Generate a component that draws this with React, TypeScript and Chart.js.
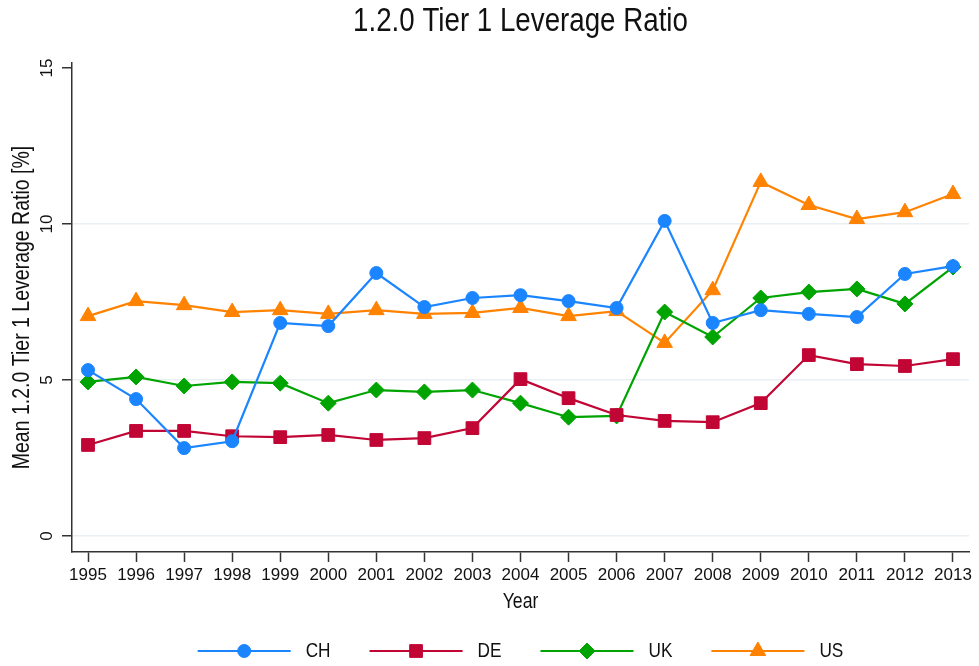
import React, { useEffect, useRef } from "react";
import { Chart, registerables } from "chart.js";

Chart.register(...registerables);

const years = [1995, 1996, 1997, 1998, 1999, 2000, 2001, 2002, 2003, 2004, 2005, 2006, 2007, 2008, 2009, 2010, 2011, 2012, 2013];

const chValues = [5.32, 4.39, 2.82, 3.04, 6.83, 6.73, 8.43, 7.34, 7.63, 7.72, 7.53, 7.31, 10.1, 6.83, 7.24, 7.12, 7.02, 8.4, 8.65];
const deValues = [2.92, 3.37, 3.37, 3.2, 3.17, 3.24, 3.08, 3.14, 3.46, 5.03, 4.42, 3.88, 3.69, 3.65, 4.26, 5.8, 5.51, 5.45, 5.67];
const ukValues = [4.94, 5.1, 4.81, 4.94, 4.9, 4.26, 4.68, 4.62, 4.68, 4.26, 3.81, 3.85, 7.18, 6.38, 7.63, 7.82, 7.92, 7.44, 8.62];
const usValues = [7.05, 7.53, 7.4, 7.18, 7.24, 7.12, 7.24, 7.12, 7.15, 7.31, 7.05, 7.21, 6.19, 7.88, 11.35, 10.61, 10.16, 10.38, 10.96];

const yTicks = [0, 5, 10, 15];

const titleText = "1.2.0 Tier 1 Leverage Ratio";
const yTitleText = "Mean 1.2.0 Tier 1 Leverage Ratio [%]";
const xTitleText = "Year";

const REG = "'Liberation Sans', Arial, sans-serif";
const AXIS_COLOR = "#333333";
const TEXT_COLOR = "#111111";
const CONDENSE = 0.82;

type SeriesDef = {
  label: string;
  values: number[];
  color: string;
  pointStyle: string;
  radius: number;
};

const series: SeriesDef[] = [
  { label: "CH", values: chValues, color: "#1a85ff", pointStyle: "circle", radius: 6.5 },
  { label: "DE", values: deValues, color: "#c10534", pointStyle: "rect", radius: 9 },
  { label: "UK", values: ukValues, color: "#00a400", pointStyle: "rectRot", radius: 8 },
  { label: "US", values: usValues, color: "#ff8200", pointStyle: "triangle", radius: 9 },
];

// Condensed text: regular face squeezed horizontally.
function drawText(
  ctx: CanvasRenderingContext2D,
  text: string,
  x: number,
  y: number,
  size: number,
  sx: number,
  align: CanvasTextAlign,
  angle = 0
) {
  ctx.save();
  ctx.translate(x, y);
  if (angle) ctx.rotate(angle);
  ctx.scale(sx, 1);
  ctx.font = `${size}px ${REG}`;
  ctx.textAlign = align;
  ctx.textBaseline = "middle";
  ctx.fillText(text, 0, 0);
  ctx.restore();
}

// Same shapes as the dataset point styles, for the legend keys.
function drawMarker(ctx: CanvasRenderingContext2D, style: string, x: number, y: number, r: number) {
  ctx.beginPath();
  if (style === "circle") {
    ctx.arc(x, y, r, 0, Math.PI * 2);
  } else if (style === "rect") {
    const s = Math.SQRT1_2 * r;
    ctx.rect(x - s, y - s, 2 * s, 2 * s);
  } else if (style === "rectRot") {
    ctx.moveTo(x - r, y);
    ctx.lineTo(x, y - r);
    ctx.lineTo(x + r, y);
    ctx.lineTo(x, y + r);
    ctx.closePath();
  } else if (style === "triangle") {
    const a = (2 * Math.PI) / 3;
    ctx.moveTo(x, y - r);
    ctx.lineTo(x + Math.sin(a) * r, y - Math.cos(a) * r);
    ctx.lineTo(x + Math.sin(2 * a) * r, y - Math.cos(2 * a) * r);
    ctx.closePath();
  }
  ctx.fill();
  ctx.lineWidth = 1;
  ctx.stroke();
}

// Draws the title, axis titles, rotated y tick labels and the line+marker legend.
const decorPlugin = {
  id: "decor",
  afterDraw(chart: any) {
    const { ctx, chartArea, scales } = chart;
    const cx = (chartArea.left + chartArea.right) / 2;
    ctx.save();
    ctx.fillStyle = TEXT_COLOR;

    // title, centred over the plot region
    drawText(ctx, titleText, cx, 22, 33, 0.84, "center");

    // y tick labels (rotated)
    for (const t of yTicks) {
      const y = scales.y.getPixelForValue(t);
      drawText(ctx, String(t), 47, y, 17, 1, "center", -Math.PI / 2);
    }

    // y axis title
    drawText(ctx, yTitleText, 23, (chartArea.top + chartArea.bottom) / 2, 23.5, 0.83, "center", -Math.PI / 2);

    // x axis title
    drawText(ctx, xTitleText, cx, 602, 21.5, CONDENSE, "center");

    // legend
    const lineLen = 93;
    const gapText = 15;
    const gapItem = 39;
    const ly = 651;
    const fontSize = 21;
    ctx.font = `${fontSize}px ${REG}`;
    const widths = series.map((s) => ctx.measureText(s.label).width * CONDENSE);
    let total = 0;
    widths.forEach((w, i) => {
      total += lineLen + gapText + w + (i < widths.length - 1 ? gapItem : 0);
    });
    let x = cx - total / 2;
    series.forEach((s, i) => {
      ctx.strokeStyle = s.color;
      ctx.lineWidth = 2.2;
      ctx.beginPath();
      ctx.moveTo(x, ly);
      ctx.lineTo(x + lineLen, ly);
      ctx.stroke();
      ctx.fillStyle = s.color;
      drawMarker(ctx, s.pointStyle, x + lineLen / 2, ly, s.radius);
      ctx.fillStyle = TEXT_COLOR;
      drawText(ctx, s.label, x + lineLen + gapText, ly, fontSize, CONDENSE, "left");
      x += lineLen + gapText + widths[i] + gapItem;
    });
    ctx.restore();
  },
};

export default function App() {
  const canvasRef = useRef<HTMLCanvasElement | null>(null);

  useEffect(() => {
    const canvas = canvasRef.current;
    if (!canvas) return;

    const datasets = series.map((s) => ({
      label: s.label,
      data: years.map((yr, i) => ({ x: yr, y: s.values[i] })),
      borderColor: s.color,
      backgroundColor: s.color,
      borderWidth: 2.2,
      pointStyle: s.pointStyle,
      pointRadius: s.radius,
      pointBorderWidth: 1,
      pointBackgroundColor: s.color,
      pointBorderColor: s.color,
      tension: 0,
    }));

    const chart = new Chart(canvas, {
      type: "line",
      data: { datasets },
      options: {
        animation: false,
        responsive: false,
        maintainAspectRatio: false,
        layout: { padding: { left: 0, right: 10, top: 63, bottom: 0 } },
        plugins: {
          legend: { display: false },
          title: { display: false },
          tooltip: { enabled: false },
        },
        scales: {
          x: {
            type: "linear",
            min: 1994 + 2 / 3,
            max: 2013 + 1 / 3,
            afterFit: (scale: any) => {
              scale.height = 114;
            },
            ticks: {
              stepSize: 1,
              includeBounds: false,
              autoSkip: false,
              maxRotation: 0,
              minRotation: 0,
              padding: 3,
              color: TEXT_COLOR,
              font: { family: REG, size: 17 },
              callback: (v: any) => String(v),
            },
            grid: {
              drawOnChartArea: false,
              drawTicks: true,
              tickLength: 10,
              tickColor: AXIS_COLOR,
              tickWidth: 1.5,
            },
            border: { color: AXIS_COLOR, width: 1.5 },
          },
          y: {
            type: "linear",
            min: -0.51,
            max: 15.16,
            afterFit: (scale: any) => {
              scale.width = 72;
            },
            afterBuildTicks: (scale: any) => {
              scale.ticks = yTicks.map((v) => ({ value: v }));
            },
            ticks: { display: false },
            grid: {
              drawTicks: true,
              tickLength: 10,
              tickColor: AXIS_COLOR,
              tickWidth: 1.5,
              lineWidth: 1.5,
              color: (c: any) => (c.tick && c.tick.value === 15 ? "rgba(0,0,0,0)" : "#eaeff3"),
            },
            border: { color: AXIS_COLOR, width: 1.5 },
          },
        },
      },
      plugins: [decorPlugin],
    });

    return () => {
      chart.destroy();
    };
  }, []);

  return (
    <div style={{ position: "fixed", left: 0, top: 0, width: 979, height: 666, background: "#ffffff" }}>
      <canvas ref={canvasRef} width={979} height={666} style={{ display: "block", width: 979, height: 666 }} />
    </div>
  );
}
